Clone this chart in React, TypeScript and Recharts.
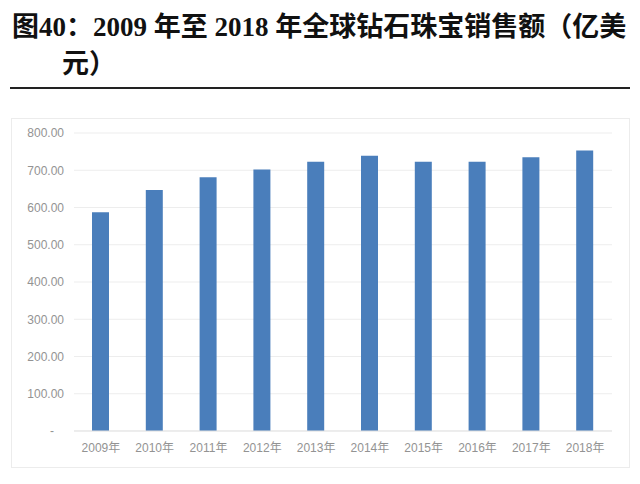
import React from 'react'
import { BarChart, Bar, XAxis, YAxis, CartesianGrid } from 'recharts'

const years = ['2009年', '2010年', '2011年', '2012年', '2013年', '2014年', '2015年', '2016年', '2017年', '2018年']
const sales = [587, 647, 681, 702, 723, 739, 723, 723, 735, 753]
const yTicks = [0, 100, 200, 300, 400, 500, 600, 700, 800]

const data = years.map((year, i) => ({ year, sales: sales[i] }))

const titleFont = '"Liberation Serif", "Noto Sans CJK SC", serif'
const axisFont = '"Liberation Sans", "Noto Sans CJK SC", sans-serif'

// accounting style: zero shows as a dash
const fmtY = (v: number) => (v === 0 ? '-\u00a0\u00a0\u00a0' : v.toFixed(2))

export default function App() {
    return (
        <div style={{ position: 'absolute', left: 0, top: 0, width: 640, height: 484, background: '#fff' }}>
            <div
                style={{
                    position: 'absolute',
                    left: 12,
                    top: 9,
                    fontFamily: titleFont,
                    fontWeight: 'bold',
                    fontSize: 27,
                    lineHeight: '37px',
                    color: '#111',
                    whiteSpace: 'nowrap',
                }}
            >
                <div>图40：2009 年至 2018 年全球钻石珠宝销售额（亿美</div>
                <div style={{ paddingLeft: 50 }}>元）</div>
            </div>
            <div style={{ position: 'absolute', left: 10, top: 87, width: 620, height: 2, background: '#222' }} />
            <div
                style={{
                    position: 'absolute',
                    left: 11,
                    top: 118,
                    width: 619,
                    height: 350,
                    border: '1px solid #ececec',
                    boxSizing: 'border-box',
                }}
            >
                <BarChart
                    width={617}
                    height={348}
                    data={data}
                    margin={{ top: 14, right: 17, left: 0, bottom: 8 }}
                >
                    <CartesianGrid vertical={false} stroke="#ededed" />
                    <XAxis
                        dataKey="year"
                        axisLine={{ stroke: '#e3e3e3' }}
                        tickLine={false}
                        tick={{ fill: '#939393', fontSize: 12, fontFamily: axisFont }}
                        tickMargin={6}
                        height={28}
                    />
                    <YAxis
                        domain={[0, 800]}
                        ticks={yTicks}
                        tickFormatter={fmtY}
                        axisLine={false}
                        tickLine={false}
                        tick={{ fill: '#939393', fontSize: 12, fontFamily: axisFont }}
                        tickMargin={4}
                        width={62}
                    />
                    <Bar dataKey="sales" fill="#4a7ebb" barSize={17} isAnimationActive={false} />
                </BarChart>
            </div>
        </div>
    )
}
